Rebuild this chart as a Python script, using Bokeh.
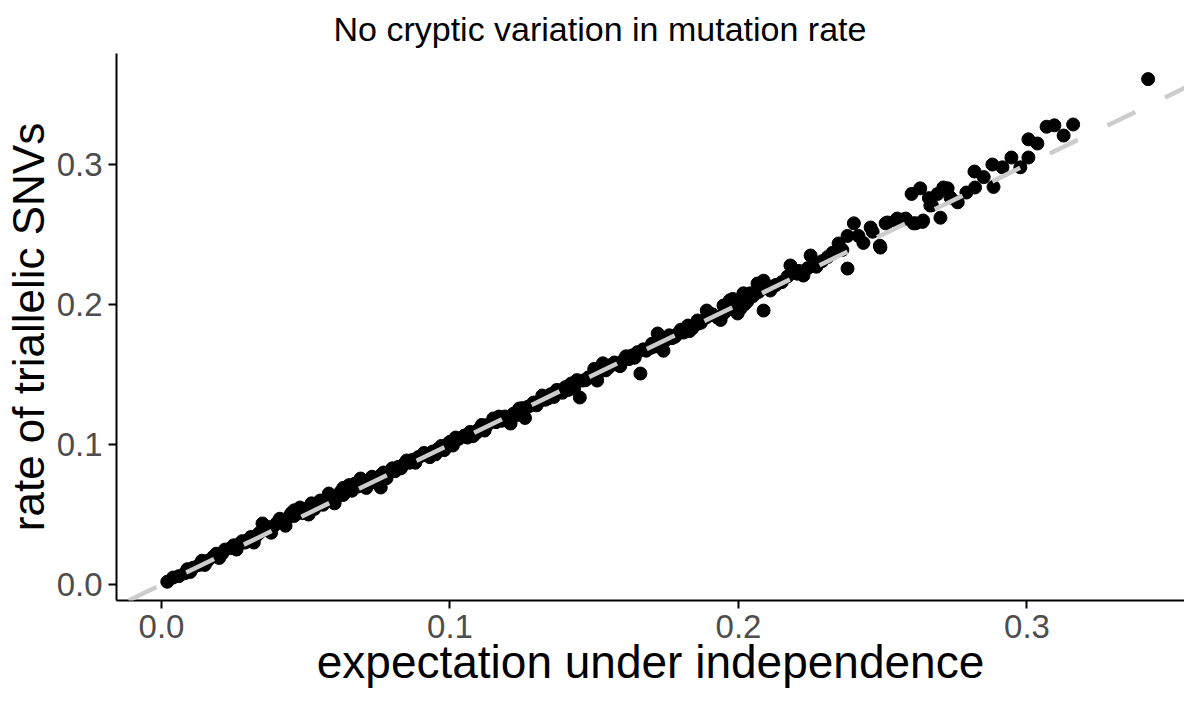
from bokeh.plotting import figure
from bokeh.models import Range1d, Slope, FixedTicker, NumeralTickFormatter
from bokeh.embed import file_html
from bokeh.resources import INLINE

# expectation under independence (x) and observed rate of triallelic SNVs (y)
x_expect = [
    0.002, 0.004, 0.006, 0.008, 0.009, 0.011, 0.013, 0.014, 0.016, 0.018,
    0.019, 0.021, 0.022, 0.024, 0.025, 0.027, 0.028, 0.030, 0.031, 0.033,
    0.034, 0.035, 0.036, 0.037, 0.039, 0.040, 0.041, 0.042, 0.044, 0.045,
    0.046, 0.047, 0.048, 0.049, 0.050, 0.052, 0.053, 0.054, 0.055, 0.056,
    0.057, 0.058, 0.059, 0.061, 0.062, 0.063, 0.064, 0.066, 0.067, 0.068,
    0.069, 0.070, 0.072, 0.073, 0.074, 0.076, 0.076, 0.077, 0.079, 0.080,
    0.081, 0.083, 0.084, 0.085, 0.086, 0.088, 0.089, 0.090, 0.092, 0.093,
    0.094, 0.096, 0.097, 0.099, 0.100, 0.101, 0.103, 0.105, 0.106, 0.107,
    0.109, 0.110, 0.112, 0.113, 0.115, 0.116, 0.118, 0.119, 0.121, 0.122,
    0.123, 0.124, 0.126, 0.127, 0.128, 0.129, 0.131, 0.132, 0.133, 0.135,
    0.136, 0.138, 0.139, 0.140, 0.142, 0.143, 0.145, 0.146, 0.148, 0.150,
    0.151, 0.152, 0.153, 0.155, 0.157, 0.158, 0.160, 0.162, 0.163, 0.165,
    0.166, 0.168, 0.1695, 0.171, 0.172, 0.174, 0.175, 0.177, 0.179, 0.181,
    0.182, 0.1825, 0.184, 0.186, 0.1858, 0.187, 0.189, 0.189, 0.1927, 0.1938,
    0.1948, 0.196, 0.197, 0.198, 0.1997, 0.2007, 0.2017, 0.203, 0.204, 0.2066,
    0.2087, 0.2087, 0.210, 0.211, 0.213, 0.215, 0.218, 0.2204, 0.2225, 0.224,
    0.225, 0.2274, 0.229, 0.2326, 0.2347, 0.2378, 0.2378, 0.240, 0.2416, 0.2433,
    0.2458, 0.2465, 0.249, 0.2492, 0.251, 0.2516, 0.2544, 0.255, 0.257, 0.258,
    0.2607, 0.2614, 0.2638, 0.264, 0.260, 0.263, 0.266, 0.2665, 0.267, 0.269,
    0.270, 0.271, 0.2725, 0.2735, 0.276, 0.279, 0.282, 0.2818, 0.285, 0.288,
    0.2884, 0.2915, 0.2946, 0.2977, 0.3005, 0.3005, 0.3036, 0.3068, 0.3095, 0.3127,
    0.316, 0.342,
    0.010, 0.015, 0.020, 0.026, 0.029, 0.032, 0.038, 0.043, 0.046, 0.051,
    0.052, 0.060, 0.063, 0.065, 0.071, 0.078, 0.082, 0.087, 0.091, 0.095,
    0.098, 0.102, 0.108, 0.111, 0.117, 0.120, 0.125, 0.130, 0.134, 0.137,
    0.141, 0.144, 0.147, 0.154, 0.156, 0.159, 0.161, 0.164, 0.167, 0.170,
    0.173, 0.176, 0.178, 0.180, 0.183, 0.191, 0.195, 0.199, 0.202, 0.205,
    0.207, 0.212, 0.217, 0.221, 0.227, 0.231, 0.236,
]
y_rate = [
    0.002, 0.005, 0.006, 0.008, 0.011, 0.012, 0.014, 0.017, 0.017, 0.020,
    0.022, 0.022, 0.025, 0.026, 0.028, 0.029, 0.031, 0.032, 0.034, 0.035,
    0.037, 0.0436, 0.039, 0.041, 0.042, 0.044, 0.047, 0.045, 0.048, 0.051,
    0.049, 0.052, 0.055, 0.051, 0.054, 0.056, 0.054, 0.058, 0.060, 0.057,
    0.061, 0.065, 0.062, 0.063, 0.066, 0.064, 0.068, 0.067, 0.072, 0.070,
    0.0757, 0.071, 0.074, 0.077, 0.073, 0.0693, 0.078, 0.080, 0.080, 0.083,
    0.081, 0.083, 0.086, 0.0886, 0.087, 0.087, 0.091, 0.092, 0.093, 0.091,
    0.095, 0.097, 0.099, 0.100, 0.102, 0.0993, 0.104, 0.1064, 0.105, 0.109,
    0.108, 0.111, 0.110, 0.114, 0.1186, 0.116, 0.117, 0.120, 0.115, 0.122,
    0.121, 0.1257, 0.119, 0.127, 0.1279, 0.130, 0.131, 0.135, 0.132, 0.136,
    0.134, 0.1386, 0.137, 0.141, 0.1436, 0.140, 0.1336, 0.1457, 0.148, 0.154,
    0.1457, 0.152, 0.158, 0.155, 0.1586, 0.157, 0.160, 0.161, 0.1636, 0.166,
    0.1507, 0.167, 0.169, 0.170, 0.1793, 0.167, 0.175, 0.176, 0.1793, 0.180,
    0.1836, 0.185, 0.183, 0.1864, 0.1886, 0.187, 0.1957, 0.191, 0.1907, 0.189,
    0.1993, 0.196, 0.203, 0.204, 0.1936, 0.197, 0.208, 0.202, 0.208, 0.215,
    0.217, 0.1957, 0.212, 0.210, 0.214, 0.216, 0.2279, 0.222, 0.2207, 0.226,
    0.235, 0.229, 0.231, 0.237, 0.2436, 0.249, 0.2257, 0.258, 0.249, 0.244,
    0.255, 0.252, 0.242, 0.2407, 0.258, 0.2586, 0.260, 0.2614, 0.2607, 0.2614,
    0.258, 0.258, 0.259, 0.260, 0.279, 0.283, 0.276, 0.2707, 0.271, 0.279,
    0.262, 0.2836, 0.283, 0.2764, 0.273, 0.280, 0.2836, 0.295, 0.291, 0.300,
    0.284, 0.298, 0.305, 0.298, 0.305, 0.318, 0.315, 0.327, 0.328, 0.3207,
    0.3286, 0.361,
    0.009, 0.014, 0.019, 0.025, 0.030, 0.030, 0.037, 0.042, 0.053, 0.050,
    0.058, 0.058, 0.069, 0.071, 0.069, 0.076, 0.084, 0.089, 0.094, 0.093,
    0.096, 0.105, 0.106, 0.114, 0.120, 0.118, 0.126, 0.128, 0.133, 0.139,
    0.139, 0.146, 0.146, 0.153, 0.157, 0.156, 0.163, 0.162, 0.168, 0.172,
    0.171, 0.178, 0.177, 0.182, 0.181, 0.193, 0.194, 0.201, 0.200, 0.206,
    0.209, 0.213, 0.220, 0.224, 0.227, 0.234, 0.239,
]
x_ticks = [0.0, 0.1, 0.2, 0.3]
y_ticks = [0.0, 0.1, 0.2, 0.3]

title_text = "No cryptic variation in mutation rate"
x_label = "expectation under independence"
y_label = "rate of triallelic SNVs"

p = figure(width=1184, height=690, output_backend="svg", toolbar_location=None,
           x_range=Range1d(-0.0156, 0.3546), y_range=Range1d(-0.0114, 0.3793),
           min_border_left=116, min_border_right=0, min_border_top=53,
           min_border_bottom=90)
p.outline_line_color = None
p.grid.visible = False
p.background_fill_color = "white"

p.title.text = title_text
p.title.align = "left"
p.title.offset = 217
p.title.standoff = 11
p.title.vertical_align = "bottom"
p.title.text_line_height = 1.0
p.title.text_font = "Liberation Sans"
p.title.text_font_size = "34px"
p.title.text_font_style = "normal"
p.title.text_color = "black"

p.scatter(x_expect, y_rate, size=13, color="black", line_color="black")

p.add_layout(Slope(gradient=1, y_intercept=0, line_color="#CCCCCC",
                   line_width=4.5, line_dash="31 33"))

for ax, ticks in ((p.xaxis, x_ticks), (p.yaxis, y_ticks)):
    ax.ticker = FixedTicker(ticks=ticks)
    ax.formatter = NumeralTickFormatter(format="0.0")
    ax.axis_line_width = 2
    ax.axis_line_color = "black"
    ax.major_tick_line_width = 2
    ax.major_tick_line_color = "black"
    ax.major_tick_out = 8
    ax.major_tick_in = 0
    ax.minor_tick_line_color = None
    ax.major_label_text_font = "Liberation Sans"
    ax.major_label_text_font_size = "33px"
    ax.major_label_text_color = "#4D4D4D"
    ax.axis_label_text_font = "Liberation Sans"
    ax.axis_label_text_font_style = "normal"
    ax.axis_label_text_color = "black"

p.xaxis.axis_label = x_label
p.xaxis.axis_label_text_font_size = "46px"
p.xaxis.major_label_standoff = 6
p.xaxis.axis_label_standoff = -5

p.yaxis.axis_label = y_label
p.yaxis.axis_label_text_font_size = "44px"
p.yaxis.axis_label_text_line_height = 1.0
p.yaxis.major_label_standoff = 6
p.yaxis.axis_label_standoff = 1

open("out.html", "w").write(file_html(p, INLINE))
